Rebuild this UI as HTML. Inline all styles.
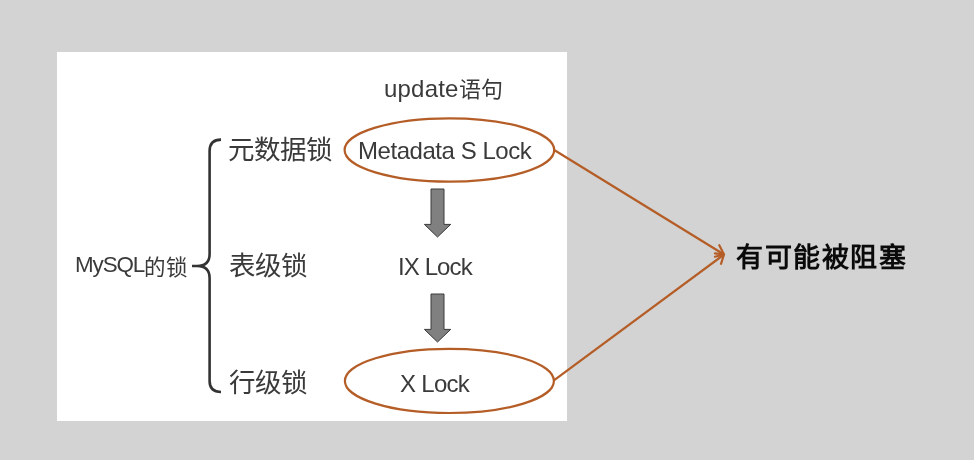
<!DOCTYPE html>
<html lang="zh-CN">
<head>
<meta charset="utf-8">
<style>
html,body{margin:0;padding:0;}
body{width:974px;height:460px;background:#d3d3d3;position:relative;overflow:hidden;font-family:"Liberation Sans",sans-serif;color:#3a3a3a;}
.card{position:absolute;left:57px;top:52px;width:510px;height:369px;background:#fff;}
.t{position:absolute;white-space:nowrap;line-height:1;will-change:transform;}
svg{position:absolute;left:0;top:0;}
</style>
</head>
<body>
<div class="card"></div>
<svg width="974" height="460" viewBox="0 0 974 460">
  <!-- brace -->
  <path d="M221 139.6 Q209.6 139.6 209.6 151 L209.6 254 Q209.6 266 197 266 L192 266 M197 266 Q209.6 266 209.6 278 L209.6 381 Q209.6 392 221 392" fill="none" stroke="#333" stroke-width="2.6"/>
  <!-- ellipses -->
  <ellipse cx="449.4" cy="150" rx="104.8" ry="31.7" fill="none" stroke="#b55d26" stroke-width="2.2"/>
  <ellipse cx="449.4" cy="380.9" rx="104.5" ry="32.1" fill="none" stroke="#b55d26" stroke-width="2.2"/>
  <!-- arrows -->
  <path d="M431 189 H444 V224.4 H450.7 L437.5 237 L424.4 224.4 H431 Z" fill="#808080" stroke="#3a3a3a" stroke-width="1"/>
  <path d="M431 294 H444 V329.4 H450.7 L437.5 342 L424.4 329.4 H431 Z" fill="#808080" stroke="#3a3a3a" stroke-width="1"/>
  <!-- connectors -->
  <path d="M554.2 150 L724 254.5 M553.9 380.3 L724 254.5" fill="none" stroke="#b55d26" stroke-width="2.2"/>
  <path d="M719.3 245.2 L724 254.5 L715 253.3 M721 263.8 L724 254.5 L715 256.7" fill="none" stroke="#b55d26" stroke-width="2.2" stroke-linejoin="round" stroke-linecap="round"/>
</svg>
<div class="t" id="upd" style="left:384px;top:76.5px;font-size:24px;"><span style="letter-spacing:0.2px">update</span><span style="font-size:22px;position:relative;top:-0.3px;left:0px">语句</span></div>
<div class="t" id="yuan" style="left:228px;top:137px;font-size:26.5px;">元数据锁</div>
<div class="t" id="biao" style="left:229px;top:253px;font-size:26.5px;">表级锁</div>
<div class="t" id="hang" style="left:229px;top:370px;font-size:26.5px;">行级锁</div>
<div class="t" id="mys" style="left:74.5px;top:253.5px;font-size:22.4px;"><span style="letter-spacing:-1.1px">MySQL</span><span style="font-size:21.5px;position:relative;top:2.6px;left:0px;letter-spacing:-0.6px">的锁</span></div>
<div class="t" id="meta" style="left:358px;top:139px;font-size:24px;letter-spacing:-0.45px;">Metadata S Lock</div>
<div class="t" id="ix" style="left:398px;top:255px;font-size:24px;letter-spacing:-0.9px;">IX Lock</div>
<div class="t" id="xl" style="left:400px;top:372px;font-size:24px;letter-spacing:-0.7px;">X Lock</div>
<div class="t" id="blk" style="left:736px;top:244.6px;font-size:27px;letter-spacing:1.5px;font-weight:bold;color:#0a0a0a;">有可能被阻塞</div>
</body>
</html>
